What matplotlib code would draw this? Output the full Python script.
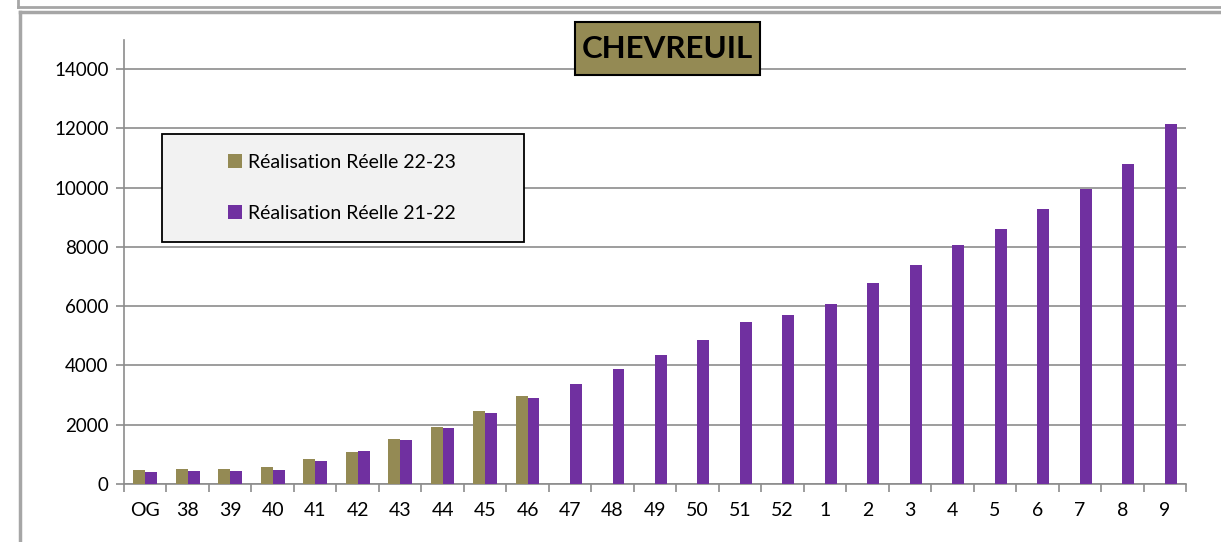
import matplotlib
matplotlib.use("Agg")
import matplotlib.pyplot as plt
import numpy as np
from matplotlib.lines import Line2D
from matplotlib.patches import Patch, Rectangle

categories = ["OG", "38", "39", "40", "41", "42", "43", "44", "45", "46", "47", "48",
              "49", "50", "51", "52", "1", "2", "3", "4", "5", "6", "7", "8", "9"]
real_22_23 = [475, 495, 517, 575, 847, 1096, 1525, 1920, 2463, 2960]
real_21_22 = [407, 427, 450, 463, 768, 1130, 1490, 1898, 2407, 2915, 3360, 3870,
              4350, 4850, 5450, 5710, 6090, 6770, 7380, 8060, 8600, 9265, 9950,
              10800, 12160]
yticks = [0, 2000, 4000, 6000, 8000, 10000, 12000, 14000]

plt.rcParams['font.family'] = ['Lato', 'DejaVu Sans']

W, H = 1221, 542
fig = plt.figure(figsize=(W / 100, H / 100), dpi=100)

ax = fig.add_axes([124 / W, 1 - 484 / H, (1186 - 124) / W, (484 - 39.5) / H])

olive = "#948A54"
purple = "#7030A0"
n = len(categories)
x = np.arange(n)
bw = 0.28
v1 = np.full(n, np.nan)
v1[:len(real_22_23)] = real_22_23
ax.bar(x - bw / 2, v1, bw, color=olive, label="Réalisation Réelle 22-23", zorder=3)
ax.bar(x + bw / 2, real_21_22, bw, color=purple, label="Réalisation Réelle 21-22", zorder=3)

ax.set_xlim(-0.5, n - 0.5)
ax.set_ylim(0, 15000)
ax.set_yticks(yticks)
ax.set_yticklabels([str(v) for v in yticks])
ax.set_xticks(x)
ax.set_xticklabels(categories)
ax.set_xticks(np.arange(n + 1) - 0.5, minor=True)
ax.tick_params(axis='x', which='major', length=0, pad=13, labelsize=14)
ax.tick_params(axis='x', which='minor', length=6, width=1.2, color="#8c8c8c", direction='out')
ax.tick_params(axis='y', length=6, width=1.2, color="#8c8c8c", pad=5, labelsize=13.5)
ax.grid(axis='y', color="#8c8c8c", linewidth=1.2, zorder=0)
for s in ["top", "right"]:
    ax.spines[s].set_visible(False)
for s in ["left", "bottom"]:
    ax.spines[s].set_color("#8c8c8c")
    ax.spines[s].set_linewidth(1.2)

# legend box (frame drawn separately)
lx0, ly0, lx1, ly1 = 162, 134, 524, 242
fig.add_artist(Rectangle((lx0 / W, 1 - ly1 / H), (lx1 - lx0) / W, (ly1 - ly0) / H,
                         transform=fig.transFigure, facecolor="#F2F2F2",
                         edgecolor="black", linewidth=1.3, zorder=5))
handles = [Patch(facecolor=olive, edgecolor='none'), Patch(facecolor=purple, edgecolor='none')]
leg = fig.legend(handles, ["Réalisation Réelle 22-23", "Réalisation Réelle 21-22"],
                 loc='center', bbox_to_anchor=((lx0 + lx1) / 2 / W - 0.001, 1 - (ly0 + ly1) / 2 / H),
                 frameon=False, fontsize=14,
                 handlelength=0.7, handleheight=0.7, handletextpad=0.3,
                 labelspacing=1.75, borderpad=0, borderaxespad=0)
leg.set_zorder(6)

# title box
tx0, ty0, tx1, ty1 = 575, 22, 760, 75
fig.add_artist(Rectangle((tx0 / W, 1 - ty1 / H), (tx1 - tx0) / W, (ty1 - ty0) / H,
                         transform=fig.transFigure, facecolor=olive,
                         edgecolor="black", linewidth=1.5, zorder=5))
t = fig.text((tx0 + tx1) / 2 / W, 1 - (ty0 + ty1) / 2 / H, "CHEVREUIL", ha='center', va='center',
             fontsize=22.5, fontweight='bold', color='black')
t.set_zorder(6)

# outer frames
gray = "#a6a6a6"
fig.add_artist(Line2D([18 / W, 1], [1 - 7 / H, 1 - 7 / H], color=gray, linewidth=2))
fig.add_artist(Line2D([18 / W, 18 / W], [1 - 7 / H, 1], color=gray, linewidth=2))
fig.add_artist(Line2D([20 / W, 1], [1 - 11.5 / H, 1 - 11.5 / H], color=gray, linewidth=2.5))
fig.add_artist(Line2D([20 / W, 20 / W], [0, 1 - 11.5 / H], color=gray, linewidth=2.5))

fig.savefig("out.png", dpi=100)
